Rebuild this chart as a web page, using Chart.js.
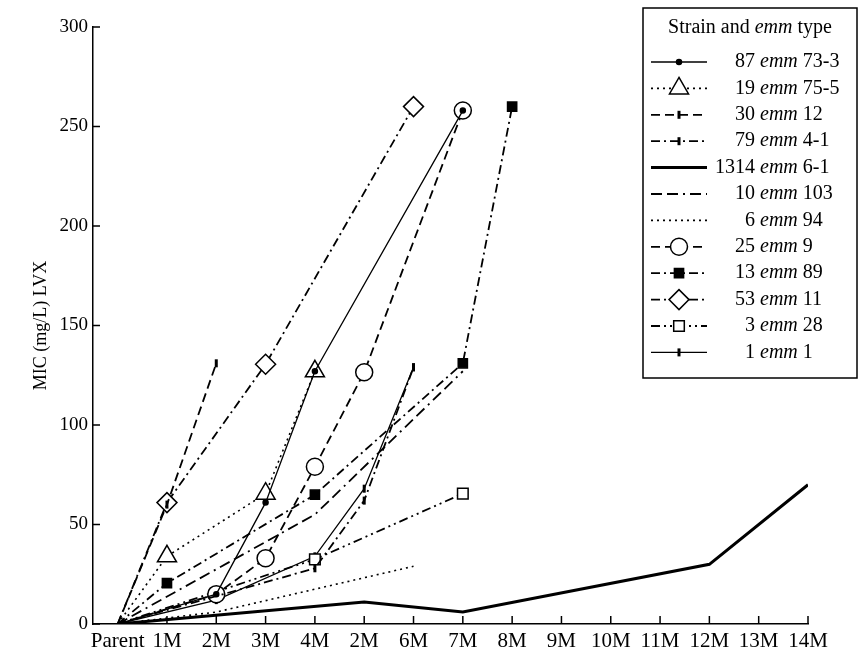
<!DOCTYPE html>
<html lang="en">
<head>
<meta charset="UTF-8">
<title>MIC LVX</title>
<script src="https://cdn.jsdelivr.net/npm/chart.js"></script>
<style>
    html, body { margin: 0; background: #fff; }
    canvas { display: block; }
</style>
</head>
<body>
<canvas id="mic" width="860" height="655"></canvas>
<script>
    // x categories (the second "2M" is as printed in the figure)
    const months = ['Parent', '1M', '2M', '3M', '4M', '2M', '6M', '7M', '8M', '9M', '10M', '11M', '12M', '13M', '14M'];
    const yTicks = [0, 50, 100, 150, 200, 250, 300];

    // MIC values per strain, null = no point at that month
    const s87  = [0, null, 15, 61, 127, null, null, 258];
    const s19  = [0, 34, null, 65.5, 127];
    const s30  = [0, 60, 131];
    const s79  = [0, null, null, null, 28, 62, 129];
    const s1314 = [0, null, null, null, null, 11, null, 6, null, null, null, null, 30, null, 70];
    const s10  = [0, null, null, null, 55, null, null, 127];
    const s6   = [0, null, 6, null, null, null, 29];
    const s25  = [0, null, 15, 33, 79, 126.5, null, 258];
    const s13  = [0, 20.5, null, null, 65, null, null, 131, 260];
    const s53  = [0, 61, null, 130.5, null, null, 260];
    const s3   = [0, null, null, null, 32.5, null, null, 65.5];
    const s1   = [0, null, 12, null, 34, 68, 129];

    const serif = "'Liberation Serif', 'Times New Roman', serif";
    const DOT = [2, 4], DASH = [9, 5], DASHDOT = [9, 4, 2, 4], DASHDOTDOT = [9, 4, 2, 4, 2, 4], LONGDASH = [11, 5, 11, 5, 2, 5];

    const series = [
        { num: '87',   emm: '73-3', data: s87,   dash: [],        width: 1.3, style: 'circle',   r: 2.5, fill: '#000' },
        { num: '19',   emm: '75-5', data: s19,   dash: DOT,       width: 1.6, style: 'triangle', r: 11,  fill: '#fff' },
        { num: '30',   emm: '12',   data: s30,   dash: DASH,      width: 1.8, style: 'line',     r: 4,   fill: '#000', rot: 90, bw: 3 },
        { num: '79',   emm: '4-1',  data: s79,   dash: DASHDOT,   width: 1.8, style: 'line',     r: 4,   fill: '#000', rot: 90, bw: 3 },
        { num: '1314', emm: '6-1',  data: s1314, dash: [],        width: 3,   style: false,      r: 0 },
        { num: '10',   emm: '103',  data: s10,   dash: LONGDASH,  width: 1.8, style: false,      r: 0 },
        { num: '6',    emm: '94',   data: s6,    dash: DOT,       width: 1.6, style: false,      r: 0 },
        { num: '25',   emm: '9',    data: s25,   dash: DASH,      width: 1.8, style: 'circle',   r: 8.5, fill: '#fff' },
        { num: '13',   emm: '89',   data: s13,   dash: DASHDOT,   width: 1.8, style: 'rect',     r: 6.5, fill: '#000' },
        { num: '53',   emm: '11',   data: s53,   dash: DASHDOT,   width: 1.8, style: 'rectRot',  r: 10,  fill: '#fff' },
        { num: '3',    emm: '28',   data: s3,    dash: DASHDOTDOT, width: 1.8, style: 'rect',    r: 7.5, fill: '#fff' },
        { num: '1',    emm: '1',    data: s1,    dash: [],        width: 1.3, style: 'line',     r: 4,   fill: '#000', rot: 90, bw: 3 }
    ];

    const datasets = series.map(s => ({
        label: s.num + ' emm ' + s.emm,
        data: s.data.map((v, i) => ({ x: i, y: v })),
        borderColor: '#000',
        borderWidth: s.width,
        borderDash: s.dash,
        spanGaps: true,
        tension: 0,
        pointStyle: s.style || 'circle',
        pointRadius: ctx => (ctx.dataIndex === 0 ? 0 : s.r),
        pointHoverRadius: 0,
        pointRotation: s.rot || 0,
        pointBorderWidth: s.bw || 1.5,
        pointBackgroundColor: s.fill || '#fff',
        pointBorderColor: '#000'
    }));

    // tick marks point into the plot area
    const innerTicks = {
        id: 'innerTicks',
        afterDraw(chart) {
            const { ctx, chartArea: a, scales: { x, y } } = chart;
            ctx.save();
            ctx.strokeStyle = '#000';
            ctx.lineWidth = 1.5;
            ctx.beginPath();
            months.forEach((m, i) => {
                if (i === 0) return;
                const px = x.getPixelForValue(i);
                ctx.moveTo(px, a.bottom);
                ctx.lineTo(px, a.bottom - 8);
            });
            yTicks.forEach(v => {
                const py = y.getPixelForValue(v);
                ctx.moveTo(a.left, py);
                ctx.lineTo(a.left + 7, py);
            });
            ctx.stroke();
            ctx.restore();
        }
    };

    // boxed legend with line sample + marker, like the printed figure
    const legendBox = {
        id: 'legendBox',
        afterDraw(chart) {
            const ctx = chart.ctx;
            const left = 643, top = 8, right = 857, bottom = 378;
            ctx.save();
            ctx.fillStyle = '#fff';
            ctx.fillRect(left, top, right - left, bottom - top);
            ctx.strokeStyle = '#000';
            ctx.lineWidth = 1.5;
            ctx.strokeRect(left, top, right - left, bottom - top);

            ctx.fillStyle = '#000';
            ctx.textBaseline = 'middle';
            const up = '20px ' + serif, it = 'italic 20px ' + serif;

            // title: Strain and <i>emm</i> type
            const parts = [['Strain and ', up], ['emm', it], [' type', up]];
            let total = 0;
            parts.forEach(p => { ctx.font = p[1]; total += ctx.measureText(p[0]).width; });
            let tx = (left + right) / 2 - total / 2;
            parts.forEach(p => {
                ctx.font = p[1];
                ctx.fillText(p[0], tx, 28);
                tx += ctx.measureText(p[0]).width;
            });

            series.forEach((s, k) => {
                const ry = 62 + k * 26.4;
                ctx.setLineDash(s.dash);
                ctx.lineWidth = s.width;
                ctx.beginPath();
                ctx.moveTo(651, ry);
                ctx.lineTo(707, ry);
                ctx.stroke();
                ctx.setLineDash([]);
                if (s.style) {
                    ctx.fillStyle = s.fill;
                    ctx.lineWidth = s.bw || 1.5;
                    Chart.helpers.drawPoint(ctx, { pointStyle: s.style, rotation: s.rot || 0, radius: s.r, borderWidth: s.bw || 1.5 }, 679, ry);
                }
                ctx.fillStyle = '#000';
                ctx.font = up;
                const w = ctx.measureText(s.num + ' ').width;
                let x0 = Math.max(760 - w, 708);
                ctx.fillText(s.num + ' ', x0, ry);
                x0 += w;
                ctx.font = it;
                ctx.fillText('emm', x0, ry);
                x0 += ctx.measureText('emm ').width;
                ctx.font = up;
                ctx.fillText(s.emm, x0, ry);
            });
            ctx.restore();
        }
    };

    new Chart(document.getElementById('mic'), {
        type: 'line',
        data: { datasets: datasets },
        options: {
            responsive: false,
            animation: false,
            layout: { padding: { top: 27, right: 52, left: 0, bottom: 0 } },
            plugins: { legend: { display: false }, tooltip: { enabled: false } },
            scales: {
                x: {
                    type: 'linear',
                    min: -0.5,
                    max: 14,
                    afterBuildTicks: s => { s.ticks = months.map((m, i) => ({ value: i })); },
                    afterFit: s => { s.height = 31; },
                    ticks: {
                        callback: v => months[v],
                        autoSkip: false,
                        maxRotation: 0,
                        padding: 5,
                        color: '#000',
                        font: { family: serif, size: 21 }
                    },
                    grid: { display: false, drawTicks: false },
                    border: { color: '#000', width: 1.5 }
                },
                y: {
                    min: 0,
                    max: 300,
                    afterBuildTicks: s => { s.ticks = yTicks.map(v => ({ value: v })); },
                    afterFit: s => { s.width = 93; },
                    ticks: { padding: 5, color: '#000', font: { family: serif, size: 19 } },
                    grid: { display: false, drawTicks: false },
                    border: { color: '#000', width: 1.5 },
                    title: {
                        display: true,
                        text: 'MIC (mg/L) LVX',
                        color: '#000',
                        font: { family: serif, size: 18 },
                        padding: { top: 30, bottom: 0 }
                    }
                }
            }
        },
        plugins: [innerTicks, legendBox]
    });
</script>
</body>
</html>
